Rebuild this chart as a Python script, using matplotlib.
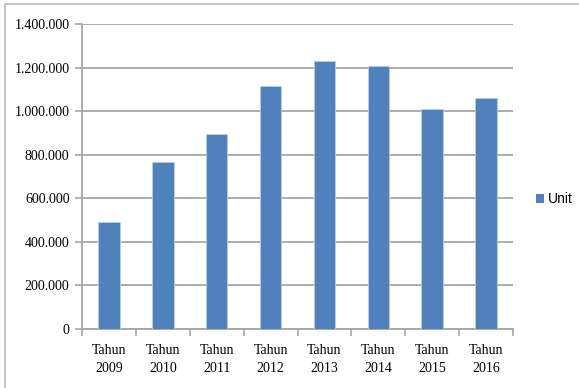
import matplotlib
matplotlib.use("Agg")
import matplotlib.pyplot as plt
from matplotlib.patches import Rectangle, Patch
from matplotlib.ticker import FuncFormatter

categories = ["Tahun\n2009", "Tahun\n2010", "Tahun\n2011", "Tahun\n2012",
              "Tahun\n2013", "Tahun\n2014", "Tahun\n2015", "Tahun\n2016"]
units = [490000, 765000, 894000, 1115000, 1230000, 1207000, 1010000, 1059000]
y_ticks = [0, 200000, 400000, 600000, 800000, 1000000, 1200000, 1400000]

bar_color = "#4F81BD"
grid_color = "#A6A6A6"

fig = plt.figure(figsize=(5.79, 3.88), dpi=100)
fig.patch.set_facecolor("white")

# outer frame of the chart area
fig.add_artist(Rectangle((5 / 579, -0.1), 1.2, (388 - 4.5) / 388 + 0.1,
                         transform=fig.transFigure, fill=False,
                         edgecolor="#BFBFBF", linewidth=1.3))

ax = fig.add_axes([82 / 579, 59 / 388, (513 - 82) / 579, (329 - 24) / 388])
x = range(len(categories))
ax.bar(x, units, width=0.4, color=bar_color, edgecolor="#B9CDE5",
       linewidth=0.6, zorder=3, label="Unit")

ax.set_xlim(-0.5, len(categories) - 0.5)
ax.set_ylim(0, 1400000)
ax.set_yticks(y_ticks)
ax.yaxis.set_major_formatter(
    FuncFormatter(lambda v, p: "0" if v == 0 else f"{int(v):,}".replace(",", ".")))
ax.grid(axis="y", color=grid_color, linewidth=1.3, zorder=0)

ax.set_xticks(list(x))
ax.set_xticklabels(categories, linespacing=1.45)
ax.set_xticks([i - 0.5 for i in range(len(categories) + 1)], minor=True)
ax.tick_params(axis="x", which="major", length=0, pad=11)
ax.tick_params(axis="x", which="minor", length=5, color=grid_color, width=1.2)
ax.tick_params(axis="y", length=5, color=grid_color, width=1.2, pad=4)

for lbl in ax.get_xticklabels() + ax.get_yticklabels():
    lbl.set_fontfamily("Liberation Serif")
    lbl.set_fontsize(10)
    lbl.set_color("black")

for s in ("top", "right"):
    ax.spines[s].set_visible(False)
for s in ("left", "bottom"):
    ax.spines[s].set_color(grid_color)
    ax.spines[s].set_linewidth(1.3)

fig.legend(handles=[Patch(facecolor=bar_color, label="Unit")],
           loc="center left", bbox_to_anchor=(523 / 579, 1 - 199 / 388),
           frameon=False, handlelength=0.6, handleheight=0.6,
           handletextpad=0.3, prop={"family": "Liberation Sans", "size": 10})

fig.savefig("out.png", dpi=100)
